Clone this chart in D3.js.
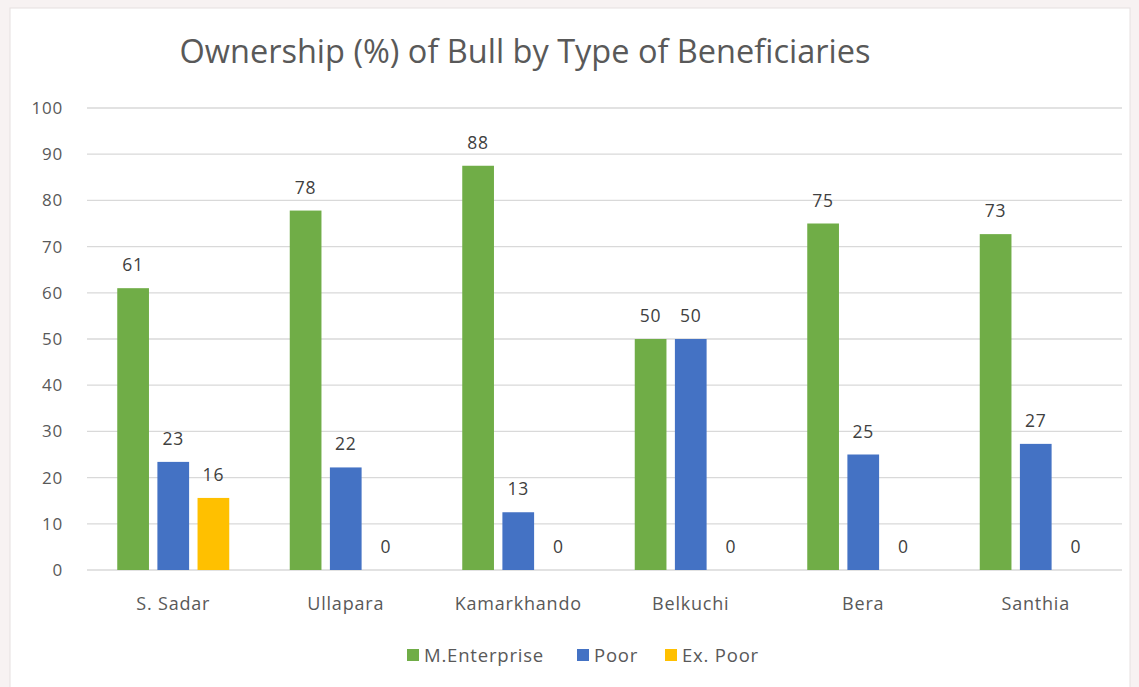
<!DOCTYPE html>
<html>
<head>
<meta charset="utf-8">
<script src="https://cdn.jsdelivr.net/npm/d3@7"></script>
<style>
  html, body { margin: 0; padding: 0; background: #f7f2f2; }
  svg { display: block; }
  text { font-family: "Open Sans", "Noto Sans", sans-serif; }
</style>
</head>
<body>
<svg id="chart" width="1139" height="687"></svg>
<script>
// Districts and ownership shares (%) by beneficiary type
const categories = ["S. Sadar", "Ullapara", "Kamarkhando", "Belkuchi", "Bera", "Santhia"];
const seriesNames = ["M.Enterprise", "Poor", "Ex. Poor"];
const mEnterprise = [61, 77.8, 87.5, 50, 75, 72.7];
const poor = [23.4, 22.2, 12.5, 50, 25, 27.3];
const exPoor = [15.6, 0, 0, 0, 0, 0];
const yTicks = [0, 10, 20, 30, 40, 50, 60, 70, 80, 90, 100];
const colors = ["#70ad47", "#4472c4", "#ffc000"];
const title = "Ownership (%) of Bull by Type of Beneficiaries";

const seriesValues = [mEnterprise, poor, exPoor];
const rows = categories.map((c, i) => ({
  category: c,
  values: seriesNames.map((s, j) => ({ series: s, value: seriesValues[j][i], color: colors[j] }))
}));

const svg = d3.select("#chart");

// chart area panel
svg.append("rect")
  .attr("x", 10).attr("y", 8)
  .attr("width", 1120).attr("height", 700)
  .attr("fill", "#ffffff")
  .attr("stroke", "#e6e0e0");

const plot = { left: 87, right: 1122, top: 108, bottom: 570 };

const x0 = d3.scaleBand().domain(categories).range([plot.left, plot.right]);
const x1 = d3.scaleBand().domain(seriesNames).range([-56, 56]).paddingInner(0.21);
const y = d3.scaleLinear().domain([0, 100]).range([plot.bottom, plot.top]);

// title
svg.append("text")
  .attr("x", 525).attr("y", 63)
  .attr("text-anchor", "middle")
  .attr("fill", "#595959")
  .attr("font-size", 32.5)
  .text(title);

// horizontal gridlines
svg.append("g")
  .selectAll("line")
  .data(yTicks)
  .join("line")
  .attr("x1", plot.left).attr("x2", plot.right)
  .attr("y1", d => y(d)).attr("y2", d => y(d))
  .attr("stroke", "#d9d9d9")
  .attr("stroke-width", 1.3);

// y axis labels
const yAxis = d3.axisLeft(y).tickValues(yTicks).tickSize(0).tickPadding(0);
const gy = svg.append("g").attr("transform", `translate(${plot.left - 24},0)`).call(yAxis);
gy.select(".domain").remove();
gy.selectAll("text")
  .attr("fill", "#595959")
  .attr("font-size", 17)
  .attr("letter-spacing", 0.8)
  .attr("font-family", "\"Open Sans\", sans-serif");

// x axis labels
const xAxis = d3.axisBottom(x0).tickSize(0).tickPadding(0);
const gx = svg.append("g").attr("transform", `translate(0,${plot.bottom + 27})`).call(xAxis);
gx.select(".domain").remove();
gx.selectAll("text")
  .attr("fill", "#595959")
  .attr("font-size", 18)
  .attr("letter-spacing", 0.8)
  .attr("font-family", "\"Open Sans\", sans-serif");

// grouped bars
const groups = svg.append("g")
  .selectAll("g")
  .data(rows)
  .join("g")
  .attr("transform", d => `translate(${x0(d.category) + x0.bandwidth() / 2},0)`);

groups.selectAll("rect")
  .data(d => d.values)
  .join("rect")
  .attr("x", d => x1(d.series))
  .attr("width", x1.bandwidth())
  .attr("y", d => y(d.value))
  .attr("height", d => y(0) - y(d.value))
  .attr("fill", d => d.color);

// value labels
groups.selectAll("text.val")
  .data(d => d.values)
  .join("text")
  .attr("class", "val")
  .attr("x", d => x1(d.series) + x1.bandwidth() / 2)
  .attr("y", d => y(d.value) - 17)
  .attr("text-anchor", "middle")
  .attr("fill", "#404040")
  .attr("font-size", 17.5)
  .attr("letter-spacing", 0.8)
  .text(d => Math.round(d.value));

// legend
const legendItems = [
  { name: seriesNames[0], color: colors[0], x: 407 },
  { name: seriesNames[1], color: colors[1], x: 577 },
  { name: seriesNames[2], color: colors[2], x: 665 }
];
const legend = svg.append("g")
  .selectAll("g")
  .data(legendItems)
  .join("g")
  .attr("transform", d => `translate(${d.x},649)`);
legend.append("rect")
  .attr("width", 12).attr("height", 12)
  .attr("fill", d => d.color);
legend.append("text")
  .attr("x", 17).attr("y", 13)
  .attr("fill", "#595959")
  .attr("font-size", 18.5)
  .attr("letter-spacing", 0.8)
  .text(d => d.name);
</script>
</body>
</html>
